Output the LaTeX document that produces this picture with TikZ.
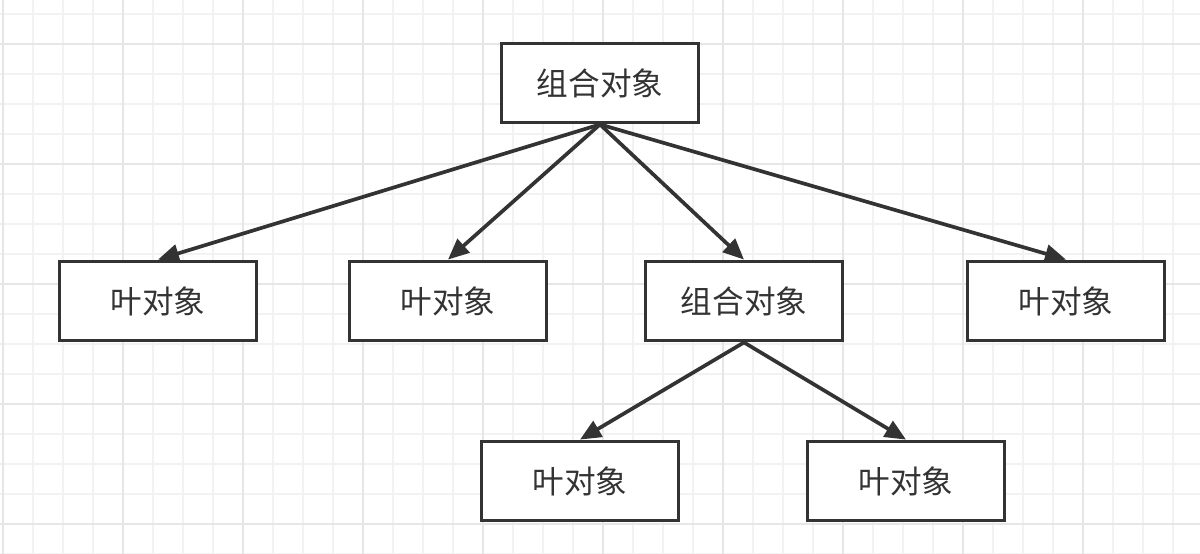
\documentclass[tikz,border=0pt]{standalone}
\usepackage{fontspec}
\newfontfamily\cjk{Noto Sans CJK SC}
\usetikzlibrary{arrows.meta}

\definecolor{inkgray}{HTML}{333333}
\definecolor{gridminor}{HTML}{F2F2F2}
\definecolor{gridmajor}{HTML}{E6E6E6}

\begin{document}
\begin{tikzpicture}[x=0.02cm,y=-0.02cm,>={Triangle[length=0.42cm,width=0.36cm]},
  box/.style={draw=inkgray,line width=2.2pt,fill=white,minimum width=3.94cm,minimum height=1.58cm,inner sep=0pt,font=\cjk\fontsize{18}{22}\selectfont,text=inkgray},
  link/.style={->,draw=inkgray,line width=2.1pt}]
\useasboundingbox (0,0) rectangle (1200,554);
% background grid
\foreach \x in {3,33,...,1200} \draw[gridminor,line width=1pt] (\x,0) -- (\x,554);
\foreach \y in {14,44,...,554} \draw[gridminor,line width=1pt] (0,\y) -- (1200,\y);
\foreach \x in {3,123,...,1200} \draw[gridmajor,line width=1.3pt] (\x,0) -- (\x,554);
\foreach \y in {44,164,...,554} \draw[gridmajor,line width=1.3pt] (0,\y) -- (1200,\y);

\node[box] (root) at (600,83) {组合对象};
\node[box] (leafa) at (158,301) {叶对象};
\node[box] (leafb) at (448,301) {叶对象};
\node[box] (sub) at (744,301) {组合对象};
\node[box] (leafc) at (1066,301) {叶对象};
\node[box] (leafd) at (580,481) {叶对象};
\node[box] (leafe) at (906,481) {叶对象};

\draw[link] (root.south) -- (leafa.north);
\draw[link] (root.south) -- (leafb.north);
\draw[link] (root.south) -- (sub.north);
\draw[link] (root.south) -- (leafc.north);
\draw[link] (sub.south) -- (leafd.north);
\draw[link] (sub.south) -- (leafe.north);
\end{tikzpicture}
\end{document}
